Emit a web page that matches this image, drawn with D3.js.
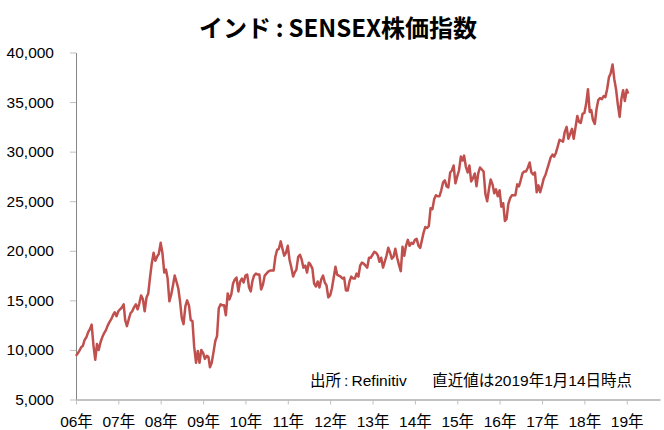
<!DOCTYPE html>
<html>
<head>
<meta charset="utf-8">
<script src="https://d3js.org/d3.v7.min.js"></script>
<style>
  body { margin: 0; background: #fff; }
  svg { display: block; }
</style>
</head>
<body>
<script>
// SENSEX, roughly twice a month (1st and 16th)
var y2006 = [9400, 9650, 9950, 10300, 10400, 11000, 11300, 11800, 12100, 12550, 10400, 9000,
             10600, 10000, 10800, 11300, 11700, 12000, 12450, 12800, 13100, 13500, 13800, 13400];
var y2007 = [13900, 14100, 14300, 14600, 13000, 12400, 13100, 13700, 13900, 14300, 14600, 14100,
             14700, 15500, 15100, 13900, 15300, 15700, 17300, 18700, 19800, 19000, 19400, 19700];
var y2008 = [20800, 19800, 17800, 18100, 17200, 14900, 15600, 16500, 17500, 16900, 16200, 14900,
             13200, 12600, 14400, 15000, 14500, 13000, 12900, 10300, 8700, 9900, 8700, 10000];
var y2009 = [9700, 9100, 9400, 9300, 8250, 8700, 9800, 10900, 11400, 14200, 14600, 14500,
             14500, 13500, 15700, 15100, 15600, 16700, 17100, 17300, 15900, 16900, 17200, 16800];
var y2010 = [17500, 17600, 16300, 15900, 16900, 17500, 17700, 17600, 17600, 16100, 16600, 17500,
             17700, 17900, 18000, 18000, 18000, 19400, 20100, 20200, 20950, 20200, 19500, 19800];
var y2011 = [20500, 19100, 18300, 17400, 17800, 18100, 19400, 19600, 19100, 18300, 18500, 17800,
             18800, 18600, 18200, 16700, 16400, 16900, 16300, 17100, 17500, 16800, 16500, 15300];
var y2012 = [15500, 16200, 17300, 18400, 17600, 17500, 17400, 17200, 17300, 16000, 16000, 16900,
             17400, 17200, 17200, 17700, 17400, 18500, 18800, 18700, 18500, 18300, 19300, 19300];
var y2013 = [19600, 19900, 19800, 19500, 18900, 19300, 18300, 18900, 19500, 20300, 19800, 19200,
             19400, 20200, 19300, 18600, 17950, 20400, 19500, 20500, 21100, 20500, 20800, 20700];
var y2014 = [21100, 21200, 20500, 20300, 21000, 21800, 22400, 22300, 22500, 24300, 24200, 25200,
             25600, 25500, 25500, 26100, 26900, 27100, 26500, 26400, 27900, 28100, 28600, 26800];
var y2015 = [27500, 28100, 29500, 29100, 29600, 28500, 27900, 28600, 27000, 27300, 27800, 26500,
             27800, 28400, 28200, 28000, 25700, 25000, 26200, 27200, 26700, 25800, 26200, 25500];
var y2016 = [26100, 24450, 24800, 23000, 23200, 24700, 25300, 25600, 25600, 25600, 26700, 26500,
             27100, 27800, 28000, 28000, 28400, 28900, 27900, 27700, 27900, 25900, 26600, 25900];
var y2017 = [26600, 27300, 27700, 28300, 28800, 29400, 29700, 29500, 29900, 30500, 31200, 31100,
             31000, 32000, 32500, 31300, 31800, 32300, 31300, 32400, 33600, 33000, 32900, 33800];
var y2018 = [33900, 34800, 36300, 34000, 34200, 33200, 32800, 34300, 35200, 35400, 35300, 35600,
             35500, 36300, 37500, 37900, 38800, 37300, 36300, 34800, 33500, 35300, 36200, 35100];
var y2019 = [36250, 35850];

var years = [2006, 2007, 2008, 2009, 2010, 2011, 2012, 2013, 2014, 2015, 2016, 2017, 2018, 2019];
var yearValues = [y2006, y2007, y2008, y2009, y2010, y2011, y2012, y2013, y2014, y2015, y2016, y2017, y2018, y2019];
var lastDate = new Date(2019, 0, 14);

var yTicks = [5000, 10000, 15000, 20000, 25000, 30000, 35000, 40000];
var xTicks = years.map(function(y) { return new Date(y, 0, 1); });

var title = 'インド\u2009:\u2009SENSEX株価指数';
var source = '出所\u2009:\u2009Refinitiv';
var note = '直近値は2019年1月14日時点';

var data = [];
yearValues.forEach(function(vals, k) {
  vals.forEach(function(v, i) {
    var dt = new Date(years[k], Math.floor(i / 2), i % 2 ? 16 : 1);
    if (dt > lastDate) dt = lastDate;
    data.push({date: dt, value: v});
  });
});

var width = 664, height = 430;
var font = '"Liberation Sans", "Noto Sans CJK JP", sans-serif';

var svg = d3.select('body').append('svg')
    .attr('width', width)
    .attr('height', height);

svg.append('rect')
    .attr('width', width)
    .attr('height', height)
    .attr('fill', '#fff');

var x = d3.scaleTime()
    .domain([new Date(2006, 0, 1), new Date(2019, 9, 15)])
    .range([76, 660]);

var y = d3.scaleLinear()
    .domain([5000, 40000])
    .range([399.5, 52.5]);

var yAxis = d3.axisLeft(y)
    .tickValues(yTicks)
    .tickSize(6)
    .tickSizeOuter(0)
    .tickPadding(16)
    .tickFormat(d3.format(','));

var xAxis = d3.axisBottom(x)
    .tickValues(xTicks)
    .tickSize(5)
    .tickSizeOuter(0)
    .tickPadding(11)
    .tickFormat(function(d) { return d3.timeFormat('%y')(d) + '年'; });

var gy = svg.append('g')
    .attr('transform', 'translate(76,0)')
    .call(yAxis);

var gx = svg.append('g')
    .attr('transform', 'translate(0,399.5)')
    .call(xAxis);

[gx, gy].forEach(function(g) {
  g.select('.domain').attr('stroke', '#868686').attr('stroke-width', 1);
  g.selectAll('.tick line').attr('stroke', '#bfbfbf');
  g.selectAll('.tick text')
      .attr('fill', '#000')
      .style('font-family', font)
      .style('font-size', '15.5px');
});

var line = d3.line()
    .x(function(d) { return x(d.date); })
    .y(function(d) { return y(d.value); });

svg.append('path')
    .datum(data)
    .attr('fill', 'none')
    .attr('stroke', '#c0504d')
    .attr('stroke-width', 2.5)
    .attr('stroke-linejoin', 'round')
    .attr('d', line);

svg.append('text')
    .attr('x', 338)
    .attr('y', 37)
    .attr('text-anchor', 'middle')
    .style('font-family', '"Noto Sans CJK JP", sans-serif')
    .style('font-weight', 'bold')
    .style('font-size', '24px')
    .text(title);

svg.append('text')
    .attr('x', 310)
    .attr('y', 386)
    .style('font-family', font)
    .style('font-size', '15.5px')
    .text(source);

svg.append('text')
    .attr('x', 632)
    .attr('y', 386)
    .attr('text-anchor', 'end')
    .style('font-family', font)
    .style('font-size', '15.5px')
    .text(note);
</script>
</body>
</html>
